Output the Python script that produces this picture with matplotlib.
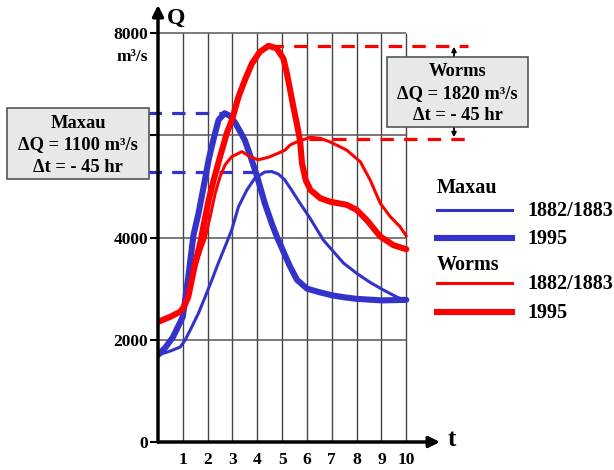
"""Flood waves of the Rhine at Maxau and Worms, 1882/1883 vs 1995."""

import matplotlib.pyplot as plt
from matplotlib.lines import Line2D
from matplotlib.patches import Rectangle

plt.rcParams["font.family"] = ["Liberation Serif", "DejaVu Serif"]
plt.rcParams["font.weight"] = "bold"

BLUE = "#3333cc"
RED = "#ff0000"

# Maxau, 1882/1883 (thin blue)
maxau_old_t = [0, 0.5, 0.9, 1.1, 1.36, 1.63, 1.9, 2.17, 2.43, 2.7, 2.97, 3.24, 3.58,
               3.9, 4.3, 4.58, 4.85, 5.1, 5.35, 5.72, 6.12, 6.66, 7.0, 7.47, 8.0,
               8.55, 9.09, 9.6, 10.0]
maxau_old_q = [1700, 1780, 1860, 2000, 2250, 2520, 2840, 3170, 3500, 3820, 4150, 4600, 4930,
               5160, 5280, 5290, 5240, 5130, 4950, 4670, 4380, 3950, 3760, 3500, 3300,
               3120, 2970, 2840, 2760]

# Maxau, 1995 (thick blue)
maxau_new_t = [0, 0.3, 0.6, 0.85, 1.0, 1.22, 1.43, 1.63, 1.84, 2.04, 2.24, 2.44, 2.68,
               2.9, 3.1, 3.3, 3.5, 3.75, 4.0, 4.3, 4.6, 4.8, 5.0, 5.3, 5.6, 6.0, 6.5,
               7.0, 7.5, 8.0, 9.0, 10.0]
maxau_new_q = [1700, 1850, 2050, 2300, 2450, 3230, 4050, 4470, 5000, 5520, 5930, 6300, 6430,
               6380, 6250, 6080, 5900, 5550, 5180, 4670, 4250, 4000, 3780, 3450, 3170, 3000, 2930,
               2870, 2830, 2800, 2770, 2780]

# Worms, 1882/1883 (thin red)
worms_old_t = [0, 0.5, 0.9, 1.2, 1.5, 1.76, 1.9, 2.1, 2.3, 2.5, 2.7, 2.97, 3.38, 3.7,
               4.04, 4.45, 4.85, 5.12, 5.32, 5.59, 6.13, 6.53, 6.93, 7.6, 8.15, 8.55,
               8.95, 9.35, 9.75, 10.0]
worms_old_q = [2350, 2450, 2550, 2780, 3400, 3800, 3980, 4410, 4860, 5190, 5420, 5580, 5680, 5580,
               5520, 5570, 5650, 5710, 5810, 5870, 5960, 5940, 5870, 5710, 5480, 5120,
               4670, 4410, 4210, 4030]

# Worms, 1995 (thick red)
worms_new_t = [0, 0.5, 0.9, 1.05, 1.22, 1.36, 1.5, 1.7, 1.84, 2.04, 2.24, 2.5, 2.77,
               2.98, 3.24, 3.5, 3.78, 4.1, 4.45, 4.78, 5.05, 5.19, 5.32, 5.45, 5.59,
               5.72, 5.8, 5.95, 6.14, 6.53, 6.93, 7.6, 8.0, 8.41, 8.95, 9.48, 10.0]
worms_new_q = [2350, 2450, 2550, 2650, 2840, 3170, 3500, 3890, 4250, 4730, 5120, 5580, 6040,
               6300, 6750, 7080, 7400, 7630, 7750, 7700, 7500, 7210, 6890, 6560, 6230,
               5900, 5450, 5120, 4930, 4770, 4700, 4640, 4540, 4340, 4020, 3850, 3770]

x_ticks = list(range(1, 11))
y_ticks = [0, 2000, 4000, 6000, 8000]
y_tick_labels = ["0", "2000", "4000", "", "8000"]

maxau_peaks = [6430, 5280]
worms_peaks = [7750, 5920]

W, H = 614, 470
PX_T = 24.83          # pixels per hour unit
PX_Q = 409 / 8000     # pixels per m3/s


def fx(px):
    return px / W


def fy(py):
    return 1 - py / H


fig = plt.figure(figsize=(W / 100, H / 100), dpi=100)
ax = fig.add_axes([fx(158), fy(442), (440 - 158) / W, (442 - 5) / H])
tmax = (440 - 158) / PX_T
qmax = (442 - 5) / PX_Q
ax.set_xlim(0, tmax)
ax.set_ylim(0, qmax)
for s in ax.spines.values():
    s.set_visible(False)

# grid
ax.vlines(x_ticks, 0, 8000, color="#444444", lw=1.0, zorder=1)
ax.hlines(y_ticks[1:], 0, 10, color="#555555", lw=1.1, zorder=1)

# axes with arrows
for tip in [(tmax, 0), (0, qmax)]:
    ax.annotate("", xy=tip, xytext=(0, 0), annotation_clip=False,
                arrowprops=dict(arrowstyle="-|>", lw=2.5, color="black", mutation_scale=16,
                                shrinkA=0, shrinkB=0), zorder=6)

ax.set_yticks(y_ticks)
ax.set_yticklabels(y_tick_labels, fontsize=12.5, fontweight="bold")
ax.tick_params(axis="y", direction="out", length=6, width=1.5, pad=1)
ax.set_xticks(x_ticks)
ax.set_xticklabels([str(v) for v in x_ticks], fontsize=12.5, fontweight="bold")
ax.tick_params(axis="x", length=0, pad=7)

# curves
style = dict(solid_capstyle="round", solid_joinstyle="round")
ax.plot(maxau_old_t, maxau_old_q, color=BLUE, lw=2.2, zorder=3, **style)
ax.plot(maxau_new_t, maxau_new_q, color=BLUE, lw=4.4, zorder=3, **style)
ax.plot(worms_old_t, worms_old_q, color=RED, lw=2.2, zorder=4, **style)
ax.plot(worms_new_t, worms_new_q, color=RED, lw=4.4, zorder=4, **style)

# dashed peak markers
left_t = (148 - 158) / PX_T
right_t = (468 - 158) / PX_T
dash = dict(lw=2.3, dashes=(4.2, 3.2), clip_on=False, zorder=3)
ax.plot([left_t, 2.65], [maxau_peaks[0]] * 2, color=BLUE, **dash)
ax.plot([left_t, 4.1], [maxau_peaks[1]] * 2, color=BLUE, **dash)
ax.plot([4.5, right_t], [worms_peaks[0]] * 2, color=RED, **dash)
ax.plot([6.1, right_t], [worms_peaks[1]] * 2, color=RED, **dash)

# axis labels
fig.text(fx(176), fy(18), "Q", fontsize=17, fontweight="bold", ha="center", va="center")
fig.text(fx(452), fy(440), "t", fontsize=18, fontweight="bold", ha="center", va="center")
fig.text(fx(148), fy(57), "m³/s", fontsize=12.5, fontweight="bold", ha="right", va="center")

# annotation boxes
for (x0, y0, x1, y1), lines in [
    ((7, 108, 149, 179), ["Maxau", "ΔQ = 1100 m³/s", "Δt = - 45 hr"]),
    ((387, 57, 528, 127), ["Worms", "ΔQ = 1820 m³/s", "Δt = - 45 hr"]),
]:
    fig.patches.append(Rectangle((fx(x0), fy(y1)), (x1 - x0) / W, (y1 - y0) / H,
                                 transform=fig.transFigure, facecolor="#e8e8e8",
                                 edgecolor="#555555", lw=1.2, zorder=5))
    cx = (x0 + x1) / 2
    for i, s in enumerate(lines):
        fig.text(fx(cx), fy(y0 + 15 + 22 * i), s, fontsize=13.3, fontweight="bold",
                 ha="center", va="center", zorder=6)

# small arrows from the Worms box to the dashed lines
for y_from, y_to in [(57, 47), (127, 137)]:
    fig.add_artist(plt.annotate("", xy=(fx(454), fy(y_to)), xytext=(fx(454), fy(y_from)),
                                xycoords="figure fraction", textcoords="figure fraction",
                                arrowprops=dict(arrowstyle="-|>", lw=1.0, color="black",
                                                mutation_scale=7, shrinkA=0, shrinkB=0)))

# legend drawn by hand
legend_rows = [
    ("Maxau", None, None, 188),
    ("1882/1883", BLUE, 2.2, 210),
    ("1995", BLUE, 4.4, 238),
    ("Worms", None, None, 265),
    ("1882/1883", RED, 2.2, 283),
    ("1995", RED, 4.4, 312),
]
for label, color, lw, y in legend_rows:
    if color is None:
        fig.text(fx(437), fy(y), label, fontsize=14.5, fontweight="bold", ha="left", va="center")
    else:
        fig.add_artist(Line2D([fx(437), fx(512)], [fy(y), fy(y)], color=color, lw=lw,
                              transform=fig.transFigure))
        fig.text(fx(527), fy(y + 1), label, fontsize=14.5, fontweight="bold",
                 ha="left", va="center")

fig.savefig("out.png", dpi=100)
